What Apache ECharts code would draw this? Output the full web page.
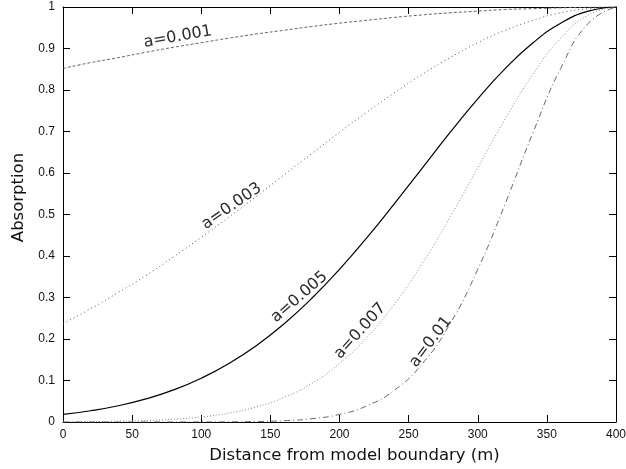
<!DOCTYPE html>
<html>
<head>
<meta charset="utf-8">
<script src="https://cdn.jsdelivr.net/npm/echarts@6/dist/echarts.min.js"></script>
<style>
html,body{margin:0;padding:0;background:#fff;}
#chart{width:626px;height:469px;}
</style>
</head>
<body>
<div id="chart"></div>
<script>
// Distance from model boundary (m)
const distances = [0, 20, 40, 60, 80, 100, 120, 140, 160, 180, 200, 220, 240, 260, 280, 300, 320, 340, 360, 380, 400];
// Absorption values read for each curve
const absA001 = [0.852, 0.866, 0.878, 0.891, 0.903, 0.914, 0.925, 0.935, 0.944, 0.953, 0.961, 0.968, 0.975, 0.981, 0.986, 0.990, 0.994, 0.996, 0.998, 0.9996, 1];
const absA003 = [0.237, 0.273, 0.312, 0.353, 0.398, 0.445, 0.494, 0.544, 0.596, 0.647, 0.698, 0.747, 0.794, 0.838, 0.878, 0.914, 0.944, 0.968, 0.986, 0.996, 1];
const absA005 = [0.0183, 0.0271, 0.0392, 0.0556, 0.0773, 0.1054, 0.1409, 0.1845, 0.2369, 0.2982, 0.3679, 0.4449, 0.5273, 0.6126, 0.6977, 0.7788, 0.8521, 0.9139, 0.9608, 0.9900, 1];
const absA007 = [0.0004, 0.0008, 0.0018, 0.0035, 0.0066, 0.0122, 0.0215, 0.0364, 0.0595, 0.0933, 0.1409, 0.2044, 0.2853, 0.3827, 0.4938, 0.6126, 0.7308, 0.8383, 0.9246, 0.9806, 1];
const absA010 = [0, 0, 0, 0.00001, 0.00004, 0.00012, 0.00039, 0.00116, 0.00315, 0.0079, 0.0183, 0.0392, 0.0773, 0.1409, 0.2369, 0.3679, 0.5273, 0.6977, 0.8521, 0.9608, 1];
const curveNames = ['a=0.001', 'a=0.003', 'a=0.005', 'a=0.007', 'a=0.01'];
const xTicks = [0, 50, 100, 150, 200, 250, 300, 350, 400];
const yTicks = [0, 0.1, 0.2, 0.3, 0.4, 0.5, 0.6, 0.7, 0.8, 0.9, 1];

const chart = echarts.init(document.getElementById('chart'), null, {renderer: 'canvas'});
const tickFont = 'Liberation Sans, Arial, sans-serif';
const labelFont = 'DejaVu Sans, sans-serif';

function pairs(vals) { return distances.map((d, i) => [d, vals[i]]); }

function curve(name, vals, color, width, dash, labelCoord, rot) {
  return {
    name: name,
    type: 'line',
    data: pairs(vals),
    smooth: true,
    showSymbol: false,
    symbol: 'none',
    lineStyle: {color: color, width: width, type: dash},
    markPoint: {
      silent: true,
      symbol: 'circle',
      symbolSize: 0,
      label: {
        show: true,
        position: 'inside',
        formatter: name,
        rotate: rot,
        fontFamily: labelFont,
        fontSize: 16,
        color: '#2a2a2a'
      },
      data: [{coord: labelCoord}]
    }
  };
}

const axisCommon = {
  type: 'value',
  axisLine: {show: true, onZero: false, lineStyle: {color: '#000', width: 1}},
  axisTick: {show: true, inside: true, length: 7, lineStyle: {color: '#000'}},
  splitLine: {show: false}
};

const option = {
  animation: false,
  backgroundColor: '#fff',
  grid: {left: 63, right: 10, top: 7, bottom: 47, containLabel: false, outerBoundsMode: 'none'},
  xAxis: [
    Object.assign({}, axisCommon, {
      min: xTicks[0], max: xTicks[xTicks.length - 1], interval: 50,
      position: 'bottom',
      name: 'Distance from model boundary (m)',
      nameLocation: 'middle',
      nameGap: 25,
      nameTextStyle: {fontFamily: labelFont, fontSize: 16.5, color: '#111', padding: [0, 0, 0, 30]},
      axisLabel: {fontFamily: tickFont, fontSize: 12, color: '#111', margin: 7}
    }),
    Object.assign({}, axisCommon, {
      min: xTicks[0], max: xTicks[xTicks.length - 1], interval: 50,
      position: 'top',
      axisLabel: {show: false}
    })
  ],
  yAxis: [
    Object.assign({}, axisCommon, {
      min: yTicks[0], max: yTicks[yTicks.length - 1], interval: 0.1,
      position: 'left',
      name: 'Absorption',
      nameLocation: 'middle',
      nameGap: 32,
      nameRotate: 90,
      nameTextStyle: {fontFamily: labelFont, fontSize: 16.5, color: '#111', padding: [0, 0, 0, 34]},
      axisLabel: {fontFamily: tickFont, fontSize: 12, color: '#111', margin: 8,
        formatter: v => (Math.round(v * 10) / 10).toString()}
    }),
    Object.assign({}, axisCommon, {
      min: yTicks[0], max: yTicks[yTicks.length - 1], interval: 0.1,
      position: 'right',
      axisLabel: {show: false}
    })
  ],
  series: [
    curve(curveNames[0], absA001, '#666', 1, [3, 2], [83, 0.928], 10),
    curve(curveNames[1], absA003, '#555', 1, [1, 3], [122, 0.52], 35),
    curve(curveNames[2], absA005, '#000', 1.2, 'solid', [171, 0.301], 41),
    curve(curveNames[3], absA007, '#888', 1, [1, 2], [215, 0.219], 48),
    curve(curveNames[4], absA010, '#666', 1, [6, 3, 1, 3], [266, 0.193], 53)
  ]
};
chart.setOption(option);
</script>
</body>
</html>
